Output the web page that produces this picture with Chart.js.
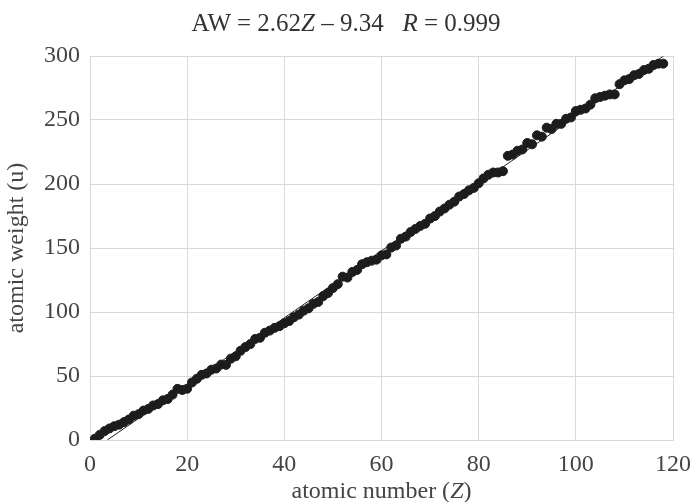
<!DOCTYPE html>
<html>
<head>
<meta charset="utf-8">
<script src="https://cdn.jsdelivr.net/npm/chart.js@4/dist/chart.umd.min.js"></script>
<style>
  html, body { margin: 0; padding: 0; background: #fff; }
  #wrap { position: relative; width: 692px; height: 502px; font-family: 'Liberation Serif', 'Times New Roman', serif; color: #333; overflow: hidden; }
  #title { position: absolute; top: 6px; left: 0; width: 692px; text-align: center; font-size: 25px; line-height: 34px; white-space: pre; }
  #xtitle { position: absolute; top: 474px; left: 90px; width: 583px; text-align: center; font-size: 24px; line-height: 32px; color: #444; }
  canvas { position: absolute; left: 0; top: 0; }
</style>
</head>
<body>
<div id="wrap">
  <canvas id="c" width="692" height="502"></canvas>
  <div id="title">AW = 2.62<i>Z</i> – 9.34   <i>R</i> = 0.999</div>
  <div id="xtitle">atomic number (<i>Z</i>)</div>
</div>
<script>
// atomic number Z = 1..118 and atomic weight (u)
const atomicNumbers = Array.from({ length: 118 }, (_, i) => i + 1)
const atomicWeights = [
  1.008, 4.003, 6.94, 9.012, 10.81, 12.011, 14.007, 15.999, 18.998, 20.18,
  22.99, 24.305, 26.982, 28.085, 30.974, 32.06, 35.45, 39.948, 39.098, 40.078,
  44.956, 47.867, 50.942, 51.996, 54.938, 55.845, 58.933, 58.693, 63.546, 65.38,
  69.723, 72.63, 74.922, 78.971, 79.904, 83.798, 85.468, 87.62, 88.906, 91.224,
  92.906, 95.95, 98, 101.07, 102.91, 106.42, 107.87, 112.41, 114.82, 118.71,
  121.76, 127.6, 126.9, 131.29, 132.91, 137.33, 138.91, 140.12, 140.91, 144.24,
  145, 150.36, 151.96, 157.25, 158.93, 162.5, 164.93, 167.26, 168.93, 173.05,
  174.97, 178.49, 180.95, 183.84, 186.21, 190.23, 192.22, 195.08, 196.97, 200.59,
  204.38, 207.2, 208.98, 209, 210, 222, 223, 226, 227, 232.04,
  231.04, 238.03, 237, 244, 243, 247, 247, 251, 252, 257,
  258, 259, 262, 267, 268, 269, 270, 270, 278, 281,
  282, 285, 286, 289, 290, 293, 294, 294,
]

// linear fit AW = a*Z + b
const fitSlope = 2.62
const fitIntercept = -9.34
const fitRange = [-fitIntercept / fitSlope, 118]

const xTicks = [0, 20, 40, 60, 80, 100, 120]
const yTicks = [0, 50, 100, 150, 200, 250, 300]

const SERIF = "'Liberation Serif','Times New Roman',serif"

const points = atomicNumbers.map((z, i) => ({ x: z, y: atomicWeights[i] }))
const fitLine = fitRange.map(z => ({ x: z, y: fitSlope * z + fitIntercept }))

new Chart(document.getElementById('c'), {
  type: 'scatter',
  data: {
    datasets: [
      {
        label: 'fit',
        type: 'line',
        data: fitLine,
        borderColor: '#222',
        borderWidth: 1,
        pointRadius: 0,
        fill: false,
        order: 0,
      },
      {
        label: 'atomic weight',
        data: points,
        backgroundColor: '#1c1c1c',
        borderColor: '#1c1c1c',
        pointRadius: 4.5,
        pointHoverRadius: 4.5,
        order: 1,
      },
    ],
  },
  options: {
    responsive: false,
    animation: false,
    layout: { padding: { top: 56, right: 19, bottom: 0, left: 0 } },
    plugins: { legend: { display: false }, tooltip: { enabled: false } },
    scales: {
      x: {
        type: 'linear',
        min: 0,
        max: 120,
        afterBuildTicks: s => { s.ticks = xTicks.map(v => ({ value: v })) },
        afterFit: s => { s.height = 62; s.paddingLeft = 0; s.paddingRight = 0 },
        grid: { color: '#d9d9d9', drawTicks: false },
        border: { color: '#d9d9d9' },
        ticks: { color: '#444', padding: 10, font: { family: SERIF, size: 24 } },
      },
      y: {
        min: 0,
        max: 300,
        afterBuildTicks: s => { s.ticks = yTicks.map(v => ({ value: v })) },
        afterFit: s => { s.width = 90; s.paddingTop = 0; s.paddingBottom = 0 },
        grid: { color: '#d9d9d9', drawTicks: false },
        border: { color: '#d9d9d9' },
        title: { display: true, text: 'atomic weight (u)', color: '#444', padding: { top: 2, bottom: 0 }, font: { family: SERIF, size: 24 } },
        ticks: { color: '#444', padding: 10, font: { family: SERIF, size: 24 } },
      },
    },
  },
})
</script>
</body>
</html>
